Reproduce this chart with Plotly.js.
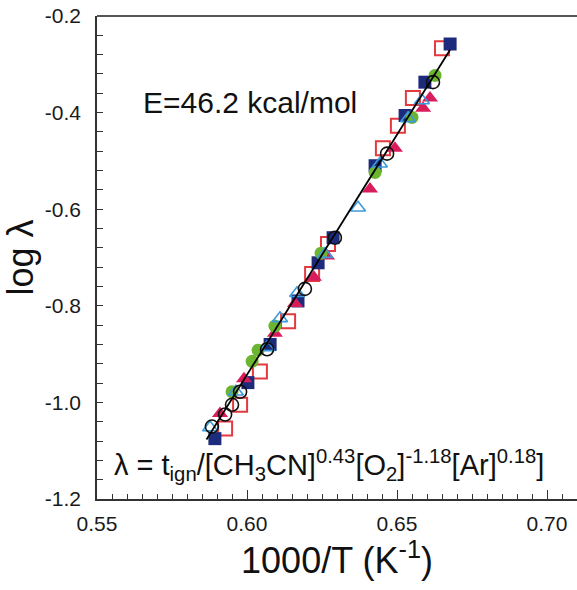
<!DOCTYPE html>
<html>
<head>
<meta charset="utf-8">
<script src="https://cdn.plot.ly/plotly-3.0.1.min.js"></script>
<style>html,body{margin:0;padding:0;background:#fff;} #chart{width:577px;height:590px;}</style>
</head>
<body>
<div id="chart"></div>
<script>
// Data (x = 1000/T in K^-1, y = log lambda)
const navySqX = [0.6677, 0.6593, 0.6527, 0.6427, 0.6287, 0.6237, 0.6170, 0.6077, 0.6003, 0.5893];
const navySqY = [-0.258, -0.337, -0.406, -0.510, -0.659, -0.711, -0.790, -0.880, -0.959, -1.075];

const redSqX = [0.6650, 0.6553, 0.6503, 0.6453, 0.6270, 0.6217, 0.6137, 0.6043, 0.5977, 0.5927];
const redSqY = [-0.267, -0.370, -0.427, -0.474, -0.672, -0.734, -0.832, -0.936, -1.005, -1.054];

const magTriX = [0.6610, 0.6587, 0.6493, 0.6410, 0.6267, 0.6223, 0.6160, 0.6093, 0.5990, 0.5910];
const magTriY = [-0.370, -0.391, -0.474, -0.558, -0.697, -0.741, -0.795, -0.857, -0.951, -1.023];

const greenCirX = [0.6627, 0.6550, 0.6427, 0.6247, 0.6093, 0.6037, 0.6017, 0.5950];
const greenCirY = [-0.323, -0.410, -0.524, -0.691, -0.842, -0.892, -0.915, -0.978];

const blueTriX = [0.6583, 0.6537, 0.6443, 0.6370, 0.6260, 0.6167, 0.6110, 0.6067, 0.5963, 0.5877];
const blueTriY = [-0.375, -0.412, -0.506, -0.597, -0.693, -0.774, -0.826, -0.886, -0.978, -1.052];

const blackCirX = [0.6620, 0.6467, 0.6293, 0.6193, 0.6067, 0.5977, 0.5950, 0.5927, 0.5883];
const blackCirY = [-0.337, -0.485, -0.659, -0.765, -0.890, -0.978, -1.005, -1.025, -1.050];

const fitX = [0.5865, 0.6677];
const fitY = [-1.077, -0.270];

const xTickVals = [0.55, 0.60, 0.65, 0.70];
const xTickText = ["0.55", "0.60", "0.65", "0.70"];
const yTickVals = [-1.2, -1.0, -0.8, -0.6, -0.4, -0.2];
const yTickText = ["-1.2", "-1.0", "-0.8", "-0.6", "-0.4", "-0.2"];

const FONT = "Liberation Sans, Arial, Helvetica, sans-serif";

function sc(x, y, symbol, color, size, lw, lc) {
  return {
    x: x, y: y, type: "scatter", mode: "markers", showlegend: false, hoverinfo: "skip",
    marker: {symbol: symbol, color: color, size: size, line: {width: lw, color: lc || color}}
  };
}

const traces = [
  sc(redSqX, redSqY, "square-open", "#e23a3f", 14, 2),
  sc(navySqX, navySqY, "square", "#1c2b7c", 13, 0),
  sc(magTriX, magTriY, "triangle-up", "#d91d5c", 14, 0),
  sc(greenCirX, greenCirY, "circle", "#6cb530", 13, 0),
  sc(blueTriX, blueTriY, "triangle-up-open", "#3a9bdc", 13, 1.6),
  sc(blackCirX, blackCirY, "circle-open", "#111111", 13, 1.6),
  {x: fitX, y: fitY, type: "scatter", mode: "lines", showlegend: false, hoverinfo: "skip",
   line: {color: "#000000", width: 1.8}}
];

const layout = {
  width: 577, height: 590,
  margin: {l: 97, r: 0, t: 16, b: 91},
  paper_bgcolor: "#ffffff", plot_bgcolor: "#ffffff",
  font: {family: FONT, color: "#1a1a1a", size: 21},
  showlegend: false,
  xaxis: {
    range: [0.55, 0.71], autorange: false,
    tickvals: xTickVals, ticktext: xTickText,
    ticks: "inside", ticklen: 9, tickwidth: 1.2, tickcolor: "#333",
    minor: {dtick: 0.005, ticks: "inside", ticklen: 5, tickwidth: 1.2, tickcolor: "#333"},
    showgrid: false, zeroline: false,
    showline: true, linecolor: "#333", linewidth: 1.6, mirror: false,
    tickfont: {family: FONT, size: 21, color: "#1a1a1a"},
    ticklabelstandoff: 5,
    automargin: false,
    title: {text: "1000/T (K<sup>-1</sup>)", font: {family: FONT, size: 36, color: "#111"}, standoff: 14}
  },
  yaxis: {
    range: [-1.2, -0.2], autorange: false,
    tickvals: yTickVals, ticktext: yTickText,
    ticks: "inside", ticklen: 6, tickwidth: 1.2, tickcolor: "#333",
    minor: {dtick: 0.04, ticks: "inside", ticklen: 6, tickwidth: 1.2, tickcolor: "#333"},
    showgrid: false, zeroline: false,
    showline: true, linecolor: "#333", linewidth: 1.6, mirror: false,
    tickfont: {family: FONT, size: 21, color: "#1a1a1a"},
    ticklabelstandoff: 10,
    automargin: false,
    title: {text: "log λ", font: {family: FONT, size: 36, color: "#111"}, standoff: 0}
  },
  shapes: [
    {type: "line", xref: "paper", yref: "paper", x0: 0, x1: 1, y0: 1, y1: 1,
     line: {color: "#555", width: 2}}
  ],
  annotations: [
    {x: 0.5645, y: -0.38, xref: "x", yref: "y", xanchor: "left", yanchor: "middle",
     text: "E=46.2 kcal/mol", showarrow: false, font: {family: FONT, size: 30, color: "#111"}},
    {x: 0.5550, y: -1.13, xref: "x", yref: "y", xanchor: "left", yanchor: "middle",
     text: "λ = t<sub>ign</sub>/[CH<sub>3</sub>CN]<sup>0.43</sup>[O<sub>2</sub>]<sup>-1.18</sup>[Ar]<sup>0.18</sup>]",
     showarrow: false, font: {family: FONT, size: 29, color: "#111"}}
  ]
};

Plotly.newPlot("chart", traces, layout, {displayModeBar: false});
</script>
</body>
</html>
